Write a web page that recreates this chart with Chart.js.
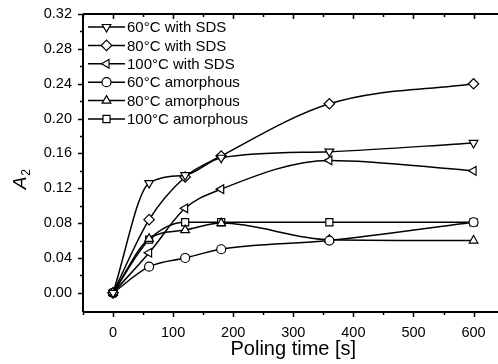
<!DOCTYPE html>
<html>
<head>
<meta charset="utf-8">
<script src="https://cdn.jsdelivr.net/npm/chart.js@4/dist/chart.umd.min.js"></script>
<style>
  html, body { margin:0; padding:0; background:#fff; overflow:hidden; }
  #wrap { width:510px; height:364px; }
</style>
</head>
<body>
<div id="wrap"><canvas id="c" width="510" height="364"></canvas></div>
<script>
// ---- data ----
const times = [0, 60, 120, 180, 360, 600];
const sds60 = [0, 0.126, 0.135, 0.155, 0.162, 0.172];
const sds80 = [0, 0.084, 0.133, 0.157, 0.217, 0.240];
const sds100 = [0, 0.046, 0.097, 0.119, 0.152, 0.140];
const amor60 = [0, 0.030, 0.040, 0.050, 0.060, 0.081];
const amor80 = [0, 0.062, 0.072, 0.080, 0.061, 0.060];
const amor100 = [0, 0.061, 0.081, 0.081, 0.081, 0.081];
const seriesLabels = ['60°C with SDS', '80°C with SDS', '100°C with SDS',
                      '60°C amorphous', '80°C amorphous', '100°C amorphous'];
const xTickValues = [0, 100, 200, 300, 400, 500, 600];
const yTickValues = [0.00, 0.04, 0.08, 0.12, 0.16, 0.20, 0.24, 0.28, 0.32];
const xTitle = 'Poling time [s]';

const FONT = '"Liberation Sans", Arial, Helvetica, sans-serif';

const styles = [
  { pointStyle: 'triangle', rotation: 180, radius: 5 },
  { pointStyle: 'rectRot', rotation: 0, radius: 5.2 },
  { pointStyle: 'triangle', rotation: 270, radius: 5 },
  { pointStyle: 'circle', rotation: 0, radius: 4.5 },
  { pointStyle: 'triangle', rotation: 0, radius: 5 },
  { pointStyle: 'rect', rotation: 0, radius: 5 }
];
const allSeries = [sds60, sds80, sds100, amor60, amor80, amor100];

const datasets = allSeries.map((vals, i) => ({
  label: seriesLabels[i],
  data: times.map((t, k) => ({ x: t, y: vals[k] })),
  borderColor: '#000',
  borderWidth: 1.5,
  cubicInterpolationMode: 'monotone',
  fill: false,
  pointStyle: styles[i].pointStyle,
  pointRotation: styles[i].rotation,
  pointRadius: styles[i].radius,
  pointHoverRadius: styles[i].radius,
  pointBackgroundColor: '#fff',
  pointBorderColor: '#000',
  pointBorderWidth: 1.2
}));

const framePlugin = {
  id: 'frame',
  afterDraw(chart) {
    const ctx = chart.ctx;
    const a = chart.chartArea;
    const xs = chart.scales.x, ys = chart.scales.y;
    ctx.save();
    ctx.strokeStyle = '#000';
    ctx.lineWidth = 2;
    ctx.beginPath();
    ctx.moveTo(a.left, a.top); ctx.lineTo(a.right, a.top);
    ctx.moveTo(a.left, a.bottom); ctx.lineTo(a.right, a.bottom);
    ctx.moveTo(a.left, a.top); ctx.lineTo(a.left, a.bottom);
    ctx.moveTo(a.right, a.top); ctx.lineTo(a.right, a.bottom);
    ctx.stroke();
    ctx.lineWidth = 1.5;
    ctx.beginPath();
    for (let v = -50; v <= 650; v += 50) {
      const px = Math.round(xs.getPixelForValue(v)) + 0.5;
      const major = (v % 100 === 0);
      const L = major ? 5 : 3;
      ctx.moveTo(px, a.bottom); ctx.lineTo(px, a.bottom + L);
      ctx.moveTo(px, a.top); ctx.lineTo(px, a.top + L);
    }
    for (let k = 0; k <= 16; k++) {
      const v = k * 0.02;
      const py = Math.round(ys.getPixelForValue(v)) + 0.5;
      const L = (k % 2 === 0) ? 5 : 3;
      ctx.moveTo(a.left, py); ctx.lineTo(a.left - L, py);
    }
    ctx.stroke();

    ctx.fillStyle = '#000';
    ctx.font = '20px ' + FONT;
    ctx.textAlign = 'center';
    ctx.textBaseline = 'alphabetic';
    ctx.fillText(xTitle, (a.left + a.right) / 2, 355);

    ctx.translate(26, 181);
    ctx.rotate(-Math.PI / 2);
    ctx.textAlign = 'left';
    ctx.font = 'italic 19px ' + FONT;
    const wA = ctx.measureText('A').width;
    ctx.fillText('A', -wA / 2 - 2, 0);
    ctx.font = '12px ' + FONT;
    ctx.fillText('2', wA / 2 - 1, 4);
    ctx.restore();

    ctx.save();
    const x0 = 88, x1 = 125, tx = 127, y0 = 27, dy = 18.4;
    ctx.font = '15px ' + FONT;
    ctx.textBaseline = 'middle';
    ctx.textAlign = 'left';
    chart.data.datasets.forEach((ds, i) => {
      const y = y0 + i * dy;
      ctx.strokeStyle = '#000';
      ctx.lineWidth = 1.5;
      ctx.beginPath();
      ctx.moveTo(x0, y); ctx.lineTo(x1, y);
      ctx.stroke();
      ctx.fillStyle = '#fff';
      ctx.strokeStyle = '#000';
      ctx.lineWidth = 1.2;
      Chart.helpers.drawPoint(ctx, {
        pointStyle: ds.pointStyle, rotation: ds.pointRotation,
        radius: ds.pointRadius, borderWidth: 1.2
      }, (x0 + x1) / 2, y);
      ctx.fillStyle = '#000';
      ctx.fillText(ds.label, tx, y + 1);
    });
    ctx.restore();
  }
};

new Chart(document.getElementById('c'), {
  type: 'line',
  data: { datasets },
  options: {
    responsive: false,
    animation: false,
    layout: { padding: { top: 14, right: 5, left: 0, bottom: 0 } },
    plugins: { legend: { display: false }, tooltip: { enabled: false } },
    scales: {
      x: {
        type: 'linear', min: -50, max: 650,
        grid: { display: false, drawTicks: false, tickLength: 0 },
        border: { display: false },
        afterBuildTicks: s => { s.ticks = xTickValues.map(v => ({ value: v })); },
        afterFit: s => { s.height = 52; s.paddingLeft = 0; s.paddingRight = 0; },
        ticks: { padding: 12, color: '#000', font: { family: FONT, size: 14.5 },
                 maxRotation: 0, autoSkip: false, callback: v => String(v) }
      },
      y: {
        type: 'linear', min: -0.022, max: 0.32,
        grid: { display: false, drawTicks: false, tickLength: 0 },
        border: { display: false },
        afterBuildTicks: s => { s.ticks = yTickValues.map(v => ({ value: v })); },
        afterFit: s => { s.width = 83; s.paddingTop = 0; s.paddingBottom = 0; },
        ticks: { padding: 11, color: '#000', font: { family: FONT, size: 14.5 },
                 autoSkip: false, callback: v => Number(v).toFixed(2) }
      }
    }
  },
  plugins: [framePlugin]
});
</script>
</body>
</html>
